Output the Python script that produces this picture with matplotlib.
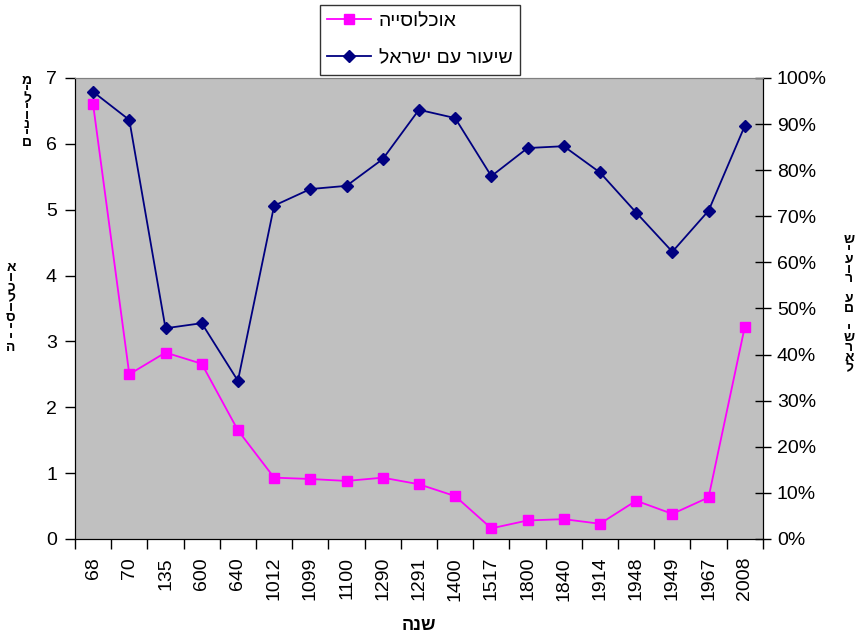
import matplotlib
matplotlib.use("Agg")
import matplotlib.pyplot as plt
from matplotlib.ticker import FixedLocator, NullFormatter

plt.rcParams['font.family'] = ['Liberation Sans', 'DejaVu Sans']

years = ['68', '70', '135', '600', '640', '1012', '1099', '1100', '1290', '1291',
         '1400', '1517', '1800', '1840', '1914', '1948', '1949', '1967', '2008']
# population of the Jewish people, millions
population = [6.60, 2.50, 2.83, 2.66, 1.65, 0.93, 0.91, 0.88, 0.93, 0.83,
              0.65, 0.16, 0.28, 0.30, 0.23, 0.58, 0.38, 0.63, 3.22]
# share living in the land of Israel, percent
share = [97.0, 90.9, 45.7, 46.8, 34.3, 72.3, 75.9, 76.6, 82.4, 93.1,
         91.3, 78.7, 84.8, 85.2, 79.5, 70.8, 62.3, 71.2, 89.6]

pop_label = "אוכלוסייה"
share_label = "שיעור עם ישראל"
millions_label = "מיליונים"
year_label = "שנה"

W, H = 862, 634


def rtl(s):
    # matplotlib has no bidi, so draw Hebrew in visual order
    return s[::-1]


def stacked(s):
    # one upright letter per row, first letter on top
    return "\n".join(s)


fig = plt.figure(figsize=(W / 100, H / 100), dpi=100)
ax = fig.add_axes([0.087, 0.15, 0.798, 0.727])
ax.set_facecolor('#C0C0C0')
ax2 = ax.twinx()

x = list(range(len(years)))
l1, = ax.plot(x, population, color='#FF00FF', marker='s', markersize=6.5,
              linewidth=1.3, label=rtl(pop_label), zorder=3)
l2, = ax2.plot(x, share, color='#000080', marker='D', markersize=6.5,
               linewidth=1.3, label=rtl(share_label), zorder=3)

ax.set_xlim(-0.5, len(years) - 0.5)
ax.set_ylim(0, 7)
ax2.set_ylim(0, 100)

# category labels at centres, tick marks on boundaries
ax.xaxis.set_major_locator(FixedLocator([i - 0.5 for i in range(len(years) + 1)]))
ax.xaxis.set_major_formatter(NullFormatter())
ax.xaxis.set_minor_locator(FixedLocator(x))
ax.set_xticklabels(years, minor=True, rotation=90, fontsize=14)
ax.tick_params(axis='x', which='major', direction='out', length=7, width=1)
ax.tick_params(axis='x', which='minor', length=0, pad=13)

ax.set_yticks(range(0, 8))
ax.tick_params(axis='y', direction='out', length=7, width=1, labelsize=14, pad=6)
ax2.set_yticks(range(0, 101, 10))
ax2.set_yticklabels([f"{v}%" for v in range(0, 101, 10)])
ax2.tick_params(axis='y', direction='inout', length=12, width=1, labelsize=14, pad=4)

for a in (ax, ax2):
    a.spines['top'].set_color('#808080')
    a.spines['left'].set_color('black')
    a.spines['bottom'].set_color('black')
    a.spines['right'].set_color('black')

# stacked Hebrew axis titles
fig.text(11 / W, 1 - 307 / H, stacked(pop_label), ha='center', va='center',
         fontsize=10, fontweight='bold', linespacing=0.63)
fig.text(27 / W, 1 - 111 / H, stacked(millions_label), ha='center', va='center',
         fontsize=10, fontweight='bold', linespacing=0.53)
fig.text(849 / W, 1 - 303 / H, stacked(share_label), ha='center', va='center',
         fontsize=10, fontweight='bold', linespacing=0.62)
fig.text(419 / W, 1 - 625 / H, rtl(year_label), ha='center', va='center',
         fontsize=13, fontweight='bold')

leg = fig.legend(handles=[l1, l2], loc='center', bbox_to_anchor=(0.4872, 0.937),
                 fontsize=14, frameon=True, fancybox=False, edgecolor='black',
                 handlelength=2.25, handletextpad=0.4, labelspacing=1.0,
                 borderpad=0.4, borderaxespad=0)
leg.get_frame().set_linewidth(1)

fig.savefig('out.png', dpi=100)
